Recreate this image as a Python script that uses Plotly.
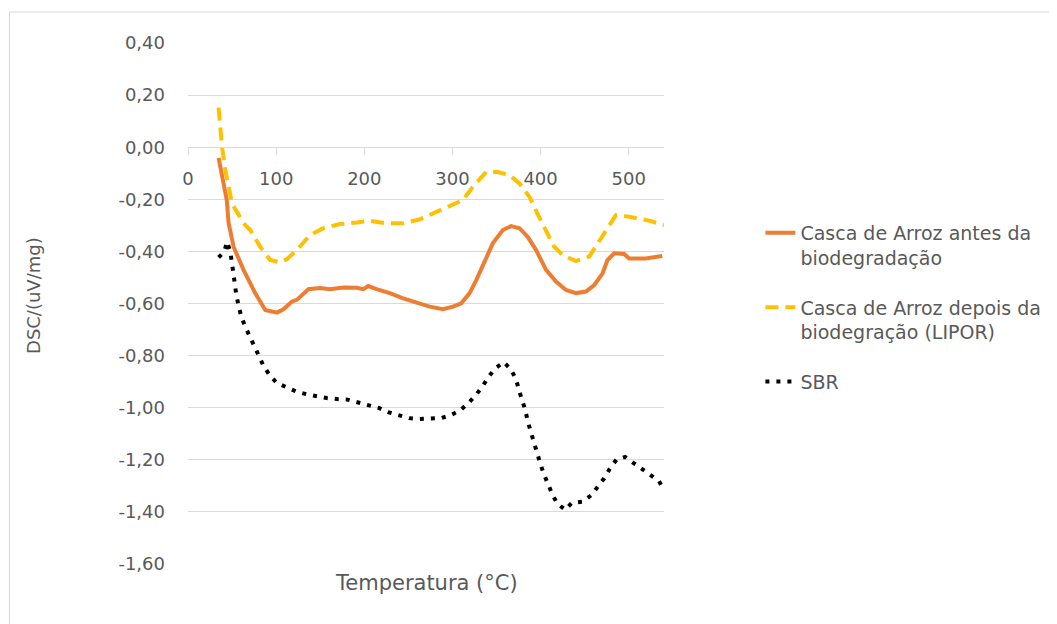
import plotly.graph_objects as go

# ---- data ----
antes_x = [34.7, 40.4, 44.0, 46.0, 51.7, 63.0, 76.2, 87.6, 100.8, 108.3, 117.7, 123.4, 136.6, 149.8,
           161.0, 176.2, 191.3, 198.8, 204.5, 213.9, 229.0, 244.0, 259.2, 274.2, 289.3, 300.6,
           310.0, 319.5, 327.0, 336.4, 345.8, 357.1, 366.6, 376.0, 385.4, 394.9, 406.2, 417.5,
           428.8, 440.2, 451.5, 460.9, 470.3, 475.9, 483.5, 494.8, 500.5, 519.3, 538.0]
antes_y = [-0.041, -0.152, -0.203, -0.290, -0.382, -0.471, -0.560, -0.625, -0.635, -0.622, -0.593,
           -0.586, -0.545, -0.541, -0.545, -0.539, -0.540, -0.545, -0.533, -0.545, -0.560, -0.580,
           -0.597, -0.612, -0.622, -0.612, -0.599, -0.560, -0.510, -0.439, -0.369, -0.318, -0.303,
           -0.311, -0.344, -0.395, -0.471, -0.516, -0.548, -0.560, -0.554, -0.529, -0.484, -0.433,
           -0.407, -0.410, -0.427, -0.427, -0.418]

depois_x = [34.7, 38.6, 42.3, 49.9, 63.0, 70.6, 81.9, 93.2, 104.5, 112.1, 123.4, 138.5, 153.5,
            172.4, 191.3, 206.3, 225.2, 244.0, 262.9, 281.8, 300.6, 311.9, 323.2, 338.3, 351.5,
            364.7, 376.0, 387.3, 398.6, 408.0, 415.0, 425.0, 440.2, 455.2, 464.6, 474.1, 485.4,
            500.5, 523.1, 540.0]
depois_y = [0.152, 0.001, -0.088, -0.216, -0.292, -0.318, -0.382, -0.433, -0.442, -0.430, -0.395,
            -0.337, -0.311, -0.295, -0.289, -0.283, -0.292, -0.292, -0.277, -0.248, -0.222, -0.203,
            -0.152, -0.095, -0.095, -0.107, -0.139, -0.190, -0.270, -0.330, -0.380, -0.414, -0.437,
            -0.420, -0.369, -0.318, -0.261, -0.267, -0.282, -0.299]

sbr_x = [34.7, 41.2, 44.2, 48.0, 49.9, 52.5, 54.8, 57.4, 60.4, 64.9, 69.8, 75.1, 80.4, 85.6, 92.4,
         100.7, 110.2, 122.2, 134.0, 145.2, 157.4, 169.8, 181.0, 193.1, 204.4, 216.5, 227.8, 239.5,
         250.8, 262.9, 275.3, 287.4, 299.4, 309.6, 318.7, 327.0, 334.5, 341.3, 348.9, 358.3, 366.6,
         372.3, 375.3, 379.1, 382.8, 385.4, 388.8, 392.2, 395.6, 399.4, 403.5, 408.0, 413.0, 418.6,
         428.0, 435.6, 447.6, 457.5, 465.4, 472.2, 478.6, 486.1, 495.9, 505.3, 514.8, 525.0, 534.4,
         539.0]
sbr_y = [-0.423, -0.401, -0.363, -0.401, -0.446, -0.522, -0.567, -0.609, -0.650, -0.689, -0.727,
         -0.765, -0.801, -0.839, -0.874, -0.905, -0.921, -0.937, -0.948, -0.957, -0.963, -0.967,
         -0.969, -0.980, -0.989, -1.001, -1.018, -1.031, -1.040, -1.043, -1.041, -1.040, -1.027,
         -1.008, -0.980, -0.950, -0.916, -0.880, -0.848, -0.825, -0.854, -0.893, -0.931, -0.969,
         -1.011, -1.052, -1.093, -1.133, -1.171, -1.212, -1.253, -1.291, -1.330, -1.367, -1.392,
         -1.365, -1.361, -1.336, -1.304, -1.271, -1.234, -1.199, -1.189, -1.212, -1.234, -1.259,
         -1.282, -1.310]

names = ["Casca de Arroz antes da<br>biodegradação",
         "Casca de Arroz depois da<br>biodegração (LIPOR)",
         "SBR"]
x_ticks = [0, 100, 200, 300, 400, 500]
y_ticks = [0.4, 0.2, 0.0, -0.2, -0.4, -0.6, -0.8, -1.0, -1.2, -1.4, -1.6]
y_ticklabels = ["0,40", "0,20", "0,00", "-0,20", "-0,40", "-0,60", "-0,80", "-1,00", "-1,20",
                "-1,40", "-1,60"]

FONT = "DejaVu Sans"
GREY = "#595959"
GRID = "#d9d9d9"

fig = go.Figure()
fig.add_trace(go.Scatter(x=antes_x, y=antes_y, mode="lines", name=names[0], legendgroup="a",
                         line=dict(color="#ED7D31", width=4)))
fig.add_trace(go.Scatter(x=depois_x, y=depois_y, mode="lines", name=names[1], legendgroup="b",
                         line=dict(color="#FFC000", width=4, dash="13px,7px")))
fig.add_trace(go.Scatter(x=sbr_x, y=sbr_y, mode="lines", name=names[2], legendgroup="c",
                         line=dict(color="black", width=4, dash="4px,7px")))

fig.update_layout(
    width=1049, height=616,
    margin=dict(l=180, r=392, t=35, b=60),
    paper_bgcolor="white", plot_bgcolor="white",
    font=dict(family=FONT, color=GREY, size=18),
    showlegend=True,
    legend=dict(x=1.20, xanchor="left", y=0.672, yanchor="top",
                font=dict(family=FONT, size=19, color=GREY),
                valign="top", tracegroupgap=22, bgcolor="rgba(0,0,0,0)"),
    xaxis=dict(range=[0, 540], tickvals=x_ticks, showgrid=False, zeroline=False,
               showline=True, linecolor=GRID, linewidth=1, ticks="outside", ticklen=7,
               tickcolor=GRID, tickfont=dict(family=FONT, size=18, color=GREY),
               anchor="free", position=0.8, ticklabelstandoff=8),
    yaxis=dict(range=[-1.6, 0.4], tickvals=y_ticks, ticktext=y_ticklabels, showgrid=True,
               gridcolor=GRID, gridwidth=1, zeroline=False, showline=False, ticks="",
               tickfont=dict(family=FONT, size=18, color=GREY), ticklabelstandoff=22),
    annotations=[
        dict(text="Temperatura (°C)", xref="paper", yref="paper", x=0.5, y=-0.036,
             xanchor="center", yanchor="middle", showarrow=False,
             font=dict(family=FONT, size=21, color=GREY)),
        dict(text="DSC/(uV/mg)", xref="paper", yref="paper", x=-0.325, y=0.515,
             xanchor="center", yanchor="middle", showarrow=False, textangle=-90,
             font=dict(family=FONT, size=18, color=GREY)),
    ],
    shapes=[dict(type="rect", xref="paper", yref="paper", x0=-0.375, y0=-0.3, x1=2.0, y1=1.0595,
                 line=dict(color=GRID, width=1), fillcolor="rgba(0,0,0,0)", layer="below")],
)

fig.write_html("out.html")
